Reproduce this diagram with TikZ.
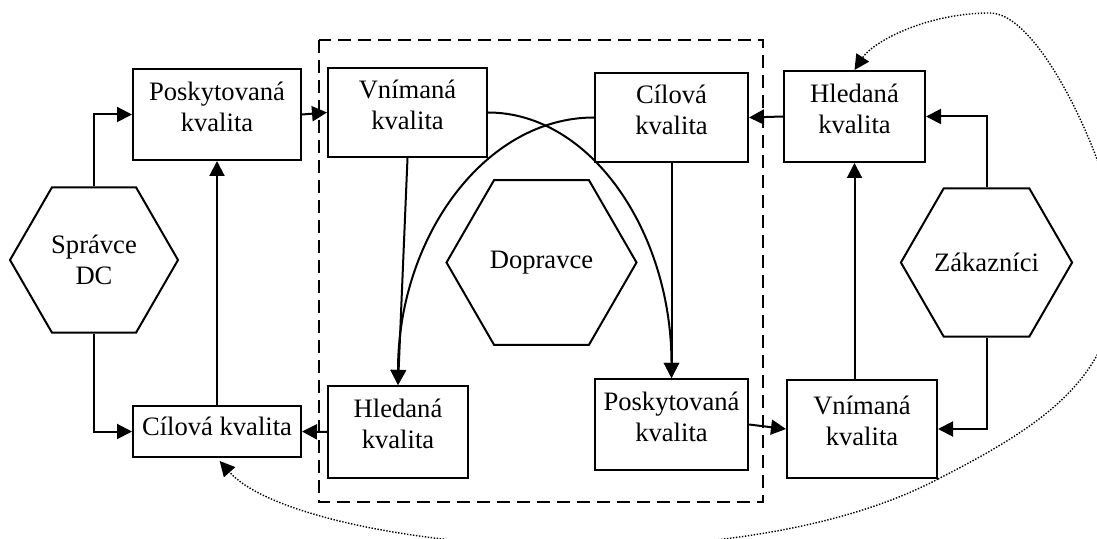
\documentclass[tikz,border=0pt]{standalone}
\usepackage{fontspec}
\setmainfont{Liberation Serif}
\usetikzlibrary{shapes.geometric,arrows.meta}

\begin{document}
\begin{tikzpicture}[
x=0.5pt, y=0.5pt,
font=\fontsize{13.3pt}{15.5pt}\selectfont,
>={Triangle[length=7.5pt,width=7.5pt]},
boxnode/.style 2 args={rectangle, draw=black, line width=1pt, align=center, inner sep=2pt, minimum width=#1, minimum height=#2, text depth=8pt},
hexnode/.style={regular polygon, regular polygon sides=6, draw=black, line width=1pt, inner sep=0pt, align=center, minimum size=#1},
link/.style={line width=1pt, ->},
feedback/.style={line width=0.7pt, dash pattern=on 0.7pt off 0.8pt, ->},
]
\useasboundingbox (0,0) rectangle (1097,-539);
\clip (0,0) rectangle (1097,-539);

% dopravce frame
\draw[line width=1pt, dash pattern=on 6.5pt off 3.5pt] (319,-40) rectangle (763,-502);

%Nodes
\node[hexnode=84pt]   (spravce) at (94,-260)      {Správce\\DC};
\node[hexnode=95pt]   (doprav)  at (541.5,-262.5) {Dopravce};
\node[hexnode=84.5pt] (zakaz)   at (986.5,-262.5) {Zákazníci};

\node[boxnode={84pt}{45.5pt}]   (poskDC) at (217,-114.5)   {Poskytovaná\\kvalita};
\node[boxnode={84pt}{25.5pt}, text depth=5pt] (cilDC) at (217,-431.5) {Cílová kvalita};
\node[boxnode={79.5pt}{44.5pt}] (vnimD)  at (407.5,-112.5) {Vnímaná\\kvalita};
\node[boxnode={76.5pt}{44.5pt}] (cilD)   at (671.5,-117.5) {Cílová\\kvalita};
\node[boxnode={70pt}{46pt}]     (hledD)  at (398,-432)     {Hledaná\\kvalita};
\node[boxnode={76.5pt}{45.5pt}] (poskD)  at (671.5,-424.5) {Poskytovaná\\kvalita};
\node[boxnode={70.5pt}{45.5pt}] (hledZ)  at (854.5,-116.5) {Hledaná\\kvalita};
\node[boxnode={75pt}{49pt}]     (vnimZ)  at (862,-429)     {Vnímaná\\kvalita};

\coordinate (loopR) at (1120,-255);
\coordinate (loopT) at (990,-13);

%Lines
\draw[link] (spravce.north) |- (poskDC.west);
\draw[link] (spravce.south) |- (cilDC.west);
\draw[link] (cilDC.north) -- (poskDC.south);
\draw[link] (poskDC.east) -- (vnimD.west);
\draw[link] (vnimD.south) -- (hledD.north);
\draw[link] (vnimD.east) .. controls +(102,0) and +(0,147) .. (poskD.north);
\draw[link] (cilD.west) .. controls +(-109,0) and +(0,148) .. (hledD.north);
\draw[link] (cilD.south) -- (poskD.north);
\draw[link] (hledD.west) -- (cilDC.east);
\draw[link] (poskD.east) -- (vnimZ.west);
\draw[link] (zakaz.north) |- (hledZ.east);
\draw[link] (zakaz.south) |- (vnimZ.east);
\draw[link] (hledZ.west) -- (cilD.east);
\draw[link] (hledZ.south |- vnimZ.north) -- (hledZ.south);

% feedback loops
\draw[feedback] (vnimZ.south east) .. controls +(120,61) and +(0,-115) .. (loopR)
  .. controls +(0,65) and +(55,0) .. (loopT)
  .. controls +(-62,0) and +(19,29) .. (hledZ.north);
\draw[feedback, shorten >=2pt] (vnimZ.south east) .. controls +(-212,-112) and +(80,-90) .. (cilDC.south);
\end{tikzpicture}
\end{document}
